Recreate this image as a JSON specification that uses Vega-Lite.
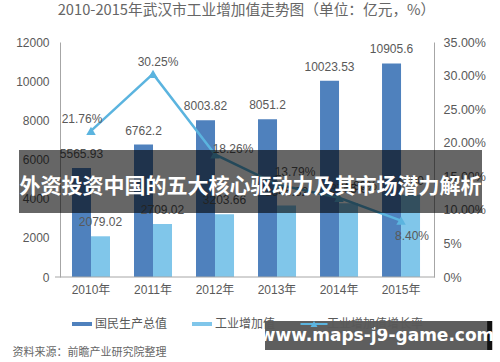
{
  "$schema": "https://vega.github.io/schema/vega-lite/v6.json",
  "width": 463,
  "height": 235,
  "autosize": "none",
  "padding": {"left": 19, "top": 42, "right": 18, "bottom": 85},
  "background": "white",
  "config": {
    "font": "Liberation Sans, Noto Sans CJK SC",
    "view": {"stroke": null},
    "axis": {"grid": false}
  },
  "title": {
    "text": "2010-2015年武汉市工业增加值走势图（单位：亿元，%）",
    "fontSize": 14.7,
    "fontWeight": "normal",
    "color": "#666666",
    "font": "Noto Sans CJK SC",
    "anchor": "middle",
    "frame": "group",
    "baseline": "bottom",
    "offset": 3,
    "dx": -4
  },
  "data": {
    "values": [
      {"year": "2010年", "国民生产总值": 5565.93, "工业增加值": 2079.02, "增长率": 21.76},
      {"year": "2011年", "国民生产总值": 6762.2, "工业增加值": 2709.02, "增长率": 30.25},
      {"year": "2012年", "国民生产总值": 8003.82, "工业增加值": 3203.66, "增长率": 18.26},
      {"year": "2013年", "国民生产总值": 8051.2, "工业增加值": 3645.32, "增长率": 13.79},
      {"year": "2014年", "国民生产总值": 10023.53, "工业增加值": 3765.6, "增长率": 11.8},
      {"year": "2015年", "国民生产总值": 10905.6, "工业增加值": 4200, "增长率": 8.4}
    ]
  },
  "layer": [
    {
      "transform": [{"fold": ["国民生产总值", "工业增加值"], "as": ["series", "value"]}],
      "layer": [
        {
          "mark": {"type": "bar"},
          "encoding": {
            "x": {
              "field": "year", "type": "nominal", "sort": null,
              "scale": {"type": "band", "paddingInner": 0.387, "paddingOuter": 0.927, "align": 0.461},
              "axis": {
                "domain": false, "ticks": false, "labelPadding": 7, "labelFontSize": 12,
                "labelColor": "#595959", "labelAngle": 0, "labelFont": "Liberation Sans, Noto Sans CJK SC",
                "title": "资料来源：前瞻产业研究院整理", "titleAnchor": "start", "titleAlign": "left",
                "titleX": -7, "titleY": 75, "titleBaseline": "middle", "titleFontSize": 11,
                "titleFontWeight": "normal", "titleColor": "#666666", "titleFont": "Noto Sans CJK SC"
              }
            },
            "xOffset": {"field": "series", "type": "nominal", "scale": {"domain": ["国民生产总值", "工业增加值"], "paddingInner": 0, "paddingOuter": 0}},
            "y": {
              "field": "value", "type": "quantitative",
              "scale": {"domain": [0, 12000]},
              "axis": {
                "orient": "left", "offset": -41, "values": [0, 2000, 4000, 6000, 8000, 10000, 12000], "format": "d",
                "domainColor": "#a6a6a6", "ticks": false, "labelPadding": 11, "labelFontSize": 12,
                "labelColor": "#595959", "title": null, "grid": false
              }
            },
            "color": {
              "field": "series", "type": "nominal",
              "scale": {"domain": ["国民生产总值", "工业增加值", "工业增加值增长率"], "range": ["#4f81bd", "#80c6ea", "#5bb4df"]},
              "legend": {
                "orient": "none", "legendX": 53, "legendY": 272, "direction": "horizontal", "title": null,
                "labelFontSize": 12, "labelColor": "#595959", "labelFont": "Noto Sans CJK SC",
                "symbolSize": 400, "symbolStrokeWidth": 0, "labelOffset": 3, "columnPadding": 24,
                "symbolType": {"expr": "datum.value == '工业增加值增长率' ? 'M-1.35,-0.1H1.35V0.1H-1.35ZM-0.35,0.3L0,-0.3L0.35,0.3Z' : 'M-1,-0.2H1V0.2H-1Z'"}
              }
            }
          }
        },
        {
          "mark": {"type": "text", "dy": -7, "fontSize": 12, "color": "#595959", "baseline": "bottom"},
          "encoding": {
            "x": {"field": "year", "type": "nominal", "sort": null},
            "xOffset": {"field": "series", "type": "nominal"},
            "y": {
              "field": "value", "type": "quantitative",
              "axis": {
                "orient": "left", "offset": -41, "values": [0, 2000, 4000, 6000, 8000, 10000, 12000], "format": "d",
                "domainColor": "#a6a6a6", "ticks": false, "labelPadding": 11, "labelFontSize": 12,
                "labelColor": "#595959", "title": null, "grid": false
              }
            },
            "text": {"field": "value", "type": "nominal"}
          }
        }
      ]
    },
    {
      "transform": [{"calculate": "format(datum['增长率'], '.2f') + '%'", "as": "rateLabel"}],
      "layer": [
        {
          "mark": {"type": "line", "strokeWidth": 2.5, "point": {"shape": "triangle-up", "size": 90, "filled": true}},
          "encoding": {
            "x": {"field": "year", "type": "nominal", "sort": null},
            "y": {
              "field": "增长率", "type": "quantitative",
              "scale": {"domain": [0, 35]},
              "axis": {
                "orient": "right", "offset": -48, "values": [0, 5, 10, 15, 20, 25, 30, 35],
                "labelExpr": "datum.value >= 10 ? format(datum.value, '.2f') + '%' : datum.value + '%'",
                "domainColor": "#a6a6a6", "ticks": false, "labelPadding": 9, "labelFontSize": 12.5,
                "labelColor": "#595959", "title": null, "grid": false
              }
            },
            "color": {"datum": "工业增加值增长率", "type": "nominal"}
          }
        },
        {
          "mark": {
            "type": "text", "fontSize": 12, "color": "#595959", "baseline": "middle",
            "dx": {"expr": "datum.year == '2010年' ? -9 : datum.year == '2011年' ? 5 : datum.year == '2015年' ? 11 : 18"},
            "dy": {"expr": "datum.year == '2012年' ? -5 : datum.year == '2015年' ? 15 : -12"}
          },
          "encoding": {
            "x": {"field": "year", "type": "nominal", "sort": null},
            "y": {
              "field": "增长率", "type": "quantitative",
              "axis": {
                "orient": "right", "offset": -48, "values": [0, 5, 10, 15, 20, 25, 30, 35],
                "labelExpr": "datum.value >= 10 ? format(datum.value, '.2f') + '%' : datum.value + '%'",
                "domainColor": "#a6a6a6", "ticks": false, "labelPadding": 9, "labelFontSize": 12.5,
                "labelColor": "#595959", "title": null, "grid": false
              }
            },
            "text": {"field": "rateLabel", "type": "nominal"}
          }
        }
      ]
    },
    {
      "data": {"values": [{"banner": "外资投资中国的五大核心驱动力及其市场潜力解析", "site": "www.maps-j9-game.com"}]},
      "layer": [
        {
          "mark": {"type": "rule", "color": "#a6a6a6", "strokeWidth": 1},
          "encoding": {
            "y": {"datum": 0, "type": "quantitative", "scale": {"domain": [0, 12000]}, "axis": null},
            "x": {"datum": "2010年", "type": "nominal", "bandPosition": -0.447},
            "x2": {"datum": "2015年", "bandPosition": 1.395}
          }
        },
        {
          "mark": {"type": "rect", "color": "#000000", "opacity": 0.6},
          "encoding": {
            "y": {"datum": 6485, "type": "quantitative", "axis": null},
            "y2": {"datum": 3268}
          }
        },
        {
          "mark": {"type": "text", "color": "#ffffff", "fontSize": 21, "fontWeight": "bold", "font": "Noto Sans CJK SC", "baseline": "middle", "align": "center"},
          "encoding": {
            "y": {"datum": 4600, "type": "quantitative", "axis": null},
            "text": {"field": "banner", "type": "nominal"}
          }
        },
        {
          "mark": {"type": "rect", "color": "#505050", "opacity": 0.92},
          "encoding": {
            "y": {"datum": -2247, "type": "quantitative", "axis": null},
            "y2": {"datum": -3727},
            "x": {"datum": "2013年", "type": "nominal", "bandPosition": 0.184},
            "x2": {"datum": "2015年", "bandPosition": 2.763}
          }
        },
        {
          "mark": {"type": "rect", "color": "#111111"},
          "encoding": {
            "y": {"datum": -2247, "type": "quantitative", "axis": null},
            "y2": {"datum": -3727},
            "x": {"datum": "2015年", "type": "nominal", "bandPosition": 2.763},
            "x2": {"datum": "2015年", "bandPosition": 2.9}
          }
        },
        {
          "mark": {"type": "text", "color": "#ffffff", "fontSize": 17, "fontWeight": "bold", "font": "DejaVu Sans", "baseline": "middle", "align": "center"},
          "encoding": {
            "y": {"datum": -3013, "type": "quantitative", "axis": null},
            "x": {"datum": "2014年", "type": "nominal", "bandPosition": 1.5},
            "text": {"field": "site", "type": "nominal"}
          }
        }
      ]
    }
  ],
  "resolve": {"scale": {"y": "independent"}}
}
